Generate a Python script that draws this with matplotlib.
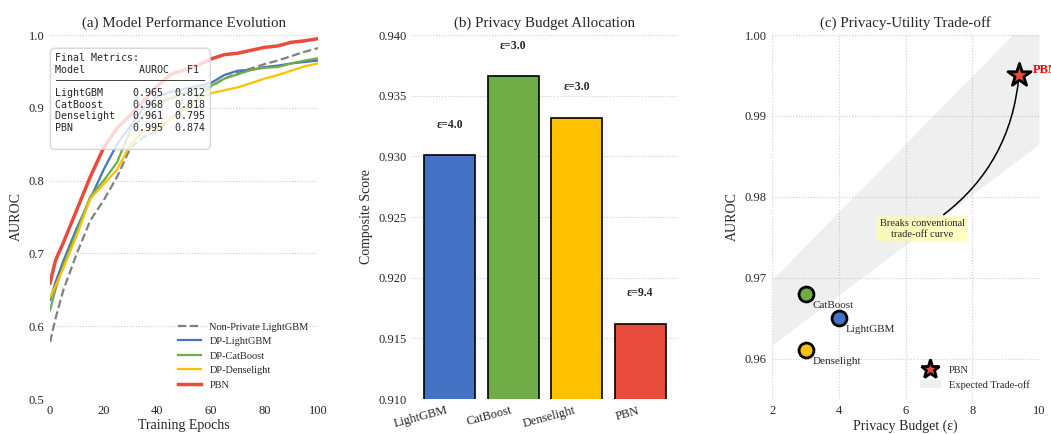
import matplotlib
matplotlib.use("Agg")
import matplotlib.pyplot as plt
from matplotlib.patches import Patch
from matplotlib.lines import Line2D

# ── 数据 ─────────────────────────
epochs = [0, 2, 5, 10, 15, 20, 25, 30, 35, 40, 45, 50, 55, 60, 65, 70, 75, 80, 85, 90, 95, 100]
auroc_nonprivate = [0.578, 0.61, 0.65, 0.70, 0.745, 0.773, 0.805, 0.845, 0.86, 0.868, 0.885, 0.902,
                    0.916, 0.929, 0.94, 0.948, 0.954, 0.96, 0.965, 0.971, 0.977, 0.982]
auroc_lightgbm = [0.636, 0.66, 0.69, 0.735, 0.775, 0.815, 0.85, 0.875, 0.90, 0.915, 0.922, 0.926,
                  0.93, 0.934, 0.945, 0.951, 0.952, 0.956, 0.958, 0.961, 0.963, 0.965]
auroc_catboost = [0.622, 0.65, 0.685, 0.73, 0.778, 0.80, 0.825, 0.87, 0.89, 0.905, 0.913, 0.92,
                  0.927, 0.93, 0.94, 0.946, 0.952, 0.955, 0.956, 0.961, 0.965, 0.968]
auroc_denselight = [0.64, 0.655, 0.68, 0.725, 0.775, 0.795, 0.815, 0.85, 0.868, 0.874, 0.884, 0.897,
                    0.912, 0.92, 0.924, 0.928, 0.934, 0.94, 0.945, 0.951, 0.957, 0.961]
auroc_pbn = [0.659, 0.69, 0.715, 0.76, 0.805, 0.845, 0.872, 0.89, 0.91, 0.93, 0.946, 0.952,
             0.958, 0.967, 0.973, 0.975, 0.979, 0.983, 0.985, 0.99, 0.992, 0.995]

models = ["LightGBM", "CatBoost", "Denselight", "PBN"]
final_auroc = [0.965, 0.968, 0.961, 0.995]
final_f1 = [0.812, 0.818, 0.795, 0.874]
composite = [0.9301, 0.9366, 0.9332, 0.9162]
epsilons = [4.0, 3.0, 3.0, 9.4]

band_eps = [2, 10]
band_low = [0.9617, 0.9865]
band_high = [0.9698, 1.0034]

COLORS = ["#4472C4", "#70AD47", "#FFC000", "#E74C3C"]

plt.rcParams["font.family"] = ["Liberation Serif", "DejaVu Serif"]
plt.rcParams["text.color"] = ".15"
plt.rcParams["axes.labelcolor"] = ".15"
plt.rcParams["xtick.color"] = ".15"
plt.rcParams["ytick.color"] = ".15"


def style_ax(ax, grid_axis="y"):
    for s in ax.spines.values():
        s.set_visible(False)
    ax.tick_params(length=0, labelsize=9, pad=4)
    ax.grid(True, axis=grid_axis, linestyle=":", color="#cccccc", linewidth=0.8)
    ax.set_axisbelow(True)


fig = plt.figure(figsize=(10.51, 4.34), dpi=100)

# ── (a) 训练曲线 ─────────────────
ax1 = fig.add_axes([0.0476, 0.0806, 0.255, 0.8387])
style_ax(ax1)
ax1.plot(epochs, auroc_nonprivate, "--", color="#808080", lw=1.6, label="Non-Private LightGBM")
ax1.plot(epochs, auroc_lightgbm, color=COLORS[0], lw=1.6, label="DP-LightGBM")
ax1.plot(epochs, auroc_catboost, color=COLORS[1], lw=1.6, label="DP-CatBoost")
ax1.plot(epochs, auroc_denselight, color=COLORS[2], lw=1.6, label="DP-Denselight")
ax1.plot(epochs, auroc_pbn, color=COLORS[3], lw=2.5, label="PBN")
ax1.set_xlim(0, 100)
ax1.set_ylim(0.5, 1.0)
ax1.set_xlabel("Training Epochs", fontsize=10, labelpad=2)
ax1.set_ylabel("AUROC", fontsize=10)
ax1.set_title("(a) Model Performance Evolution", fontsize=10.8)
ax1.legend(loc="lower right", frameon=False, fontsize=7.5, handlelength=2.2)

table = "Final Metrics:\n" + "Model" + " " * 9 + "AUROC" + " " * 3 + "F1\n" + "\u2500" * 25 + "\n"
for m, a, f in zip(models, final_auroc, final_f1):
    table += f"{m:<13}{a:.3f}  {f:.3f}\n"
ax1.text(0.02, 0.95, table, transform=ax1.transAxes, fontsize=7.2, va="top",
         family="DejaVu Sans Mono", color=".15",
         bbox=dict(boxstyle="round,pad=0.5", facecolor="white", edgecolor="#cccccc", alpha=0.8))

# ── (b) 隐私预算 ─────────────────
ax2 = fig.add_axes([0.392, 0.0806, 0.253, 0.8387])
style_ax(ax2)
xs = range(len(models))
ax2.bar(xs, composite, width=0.8, color=COLORS, edgecolor="black", linewidth=1.2)
for x, h, e in zip(xs, composite, epsilons):
    ax2.text(x, h + 0.0025, f"ε={e:.1f}", ha="center", va="center", fontsize=8.5, fontweight="bold")
ax2.set_ylim(0.910, 0.940)
ax2.set_yticks([0.910, 0.915, 0.920, 0.925, 0.930, 0.935, 0.940])
ax2.set_yticklabels([f"{v:.3f}" for v in ax2.get_yticks()])
ax2.set_xticks(list(xs))
ax2.set_xticklabels(models, rotation=15, ha="right")
ax2.set_ylabel("Composite Score", fontsize=10)
ax2.set_title("(b) Privacy Budget Allocation", fontsize=10.8)

# ── (c) 隐私-效用权衡 ─────────────
ax3 = fig.add_axes([0.735, 0.0806, 0.2536, 0.8387])
style_ax(ax3, grid_axis="both")
ax3.fill_between(band_eps, band_low, band_high, color="#808080", alpha=0.12, linewidth=0)
for i in range(3):
    ax3.scatter(epsilons[i], final_auroc[i], s=115, color=COLORS[i], edgecolors="black",
                linewidths=2, zorder=3)
    ax3.annotate(models[i], (epsilons[i], final_auroc[i]), xytext=(5, -5),
                 textcoords="offset points", ha="left", va="top", fontsize=8)
ax3.scatter(epsilons[3], final_auroc[3], s=300, marker="*", color=COLORS[3],
            edgecolors="black", linewidths=2, zorder=4)
ax3.annotate("PBN", (epsilons[3], final_auroc[3]), xytext=(10, 4), textcoords="offset points",
             color="red", fontweight="bold", fontsize=9, va="center", annotation_clip=False)
ax3.annotate("Breaks conventional\ntrade-off curve", xy=(epsilons[3], final_auroc[3]),
             xytext=(6.5, 0.976), ha="center", va="center", fontsize=7.5, zorder=3,
             bbox=dict(boxstyle="round,pad=0.3", facecolor="#ffff99", edgecolor="none", alpha=0.6),
             arrowprops=dict(arrowstyle="->", color="black", lw=1.1, shrinkB=0,
                             connectionstyle="arc3,rad=0.25"))
ax3.set_xlim(2, 10)
ax3.set_ylim(0.955, 1.0)
ax3.set_yticks([0.96, 0.97, 0.98, 0.99, 1.00])
ax3.set_yticklabels(["0.96", "0.97", "0.98", "0.99", "1.00"])
ax3.set_xticks([2, 4, 6, 8, 10])
ax3.set_xlabel("Privacy Budget (ε)", fontsize=10, labelpad=2)
ax3.set_ylabel("AUROC", fontsize=10)
ax3.set_title("(c) Privacy-Utility Trade-off", fontsize=10.8)
handles = [Line2D([], [], marker="*", color="none", markerfacecolor=COLORS[3],
                  markeredgecolor="black", markeredgewidth=2, markersize=14),
           Patch(facecolor="#808080", alpha=0.12)]
ax3.legend(handles, ["PBN", "Expected Trade-off"], loc="lower right", frameon=False, fontsize=7.5)

fig.savefig("out.png", dpi=100, facecolor="white")
